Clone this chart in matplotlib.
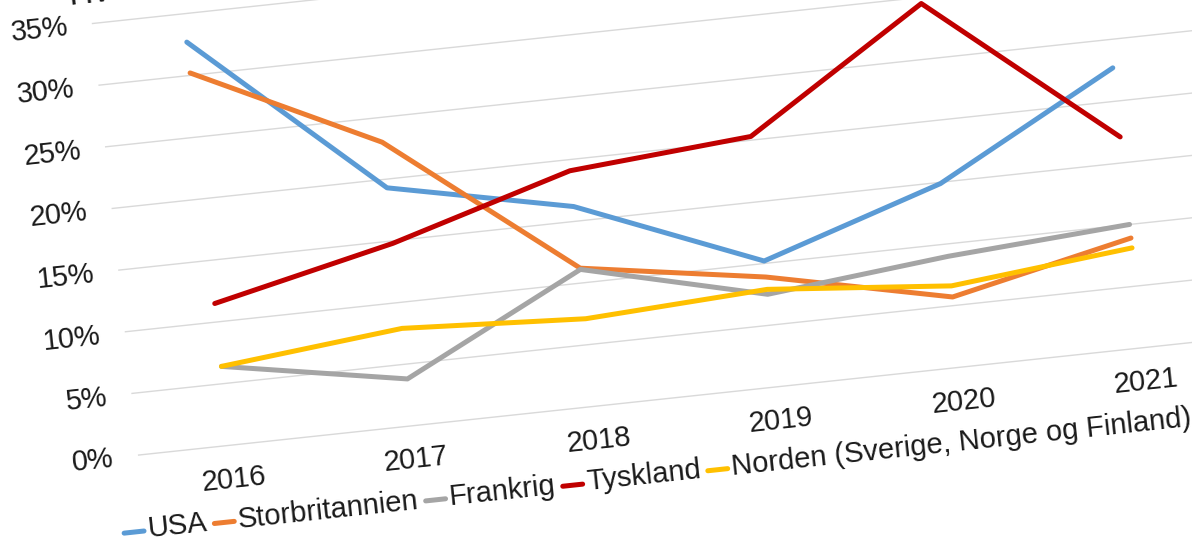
# -*- coding: utf-8 -*-
"""
Tilted line chart: share per market 2016-2021 (rotated slightly, like the scanned original)
"""

# %% Imports
import numpy as np
import matplotlib
matplotlib.use('Agg')
import matplotlib.pyplot as plt
from matplotlib.transforms import Affine2D
from matplotlib.font_manager import FontProperties

plt.rcParams['font.family'] = ['Liberation Sans', 'DejaVu Sans']

# %% Data
years = ['2016', '2017', '2018', '2019', '2020', '2021']
usa = [32.7, 19.3, 16.2, 10.2, 14.9, 22.7]
storbritannien = [30.2, 23.0, 11.2, 8.9, 5.7, 8.9]
frankrig = [6.4, 3.8, 11.1, 7.5, 9.0, 10.0]
tyskland = [11.5, 14.8, 19.1, 20.3, 29.5, 17.1]
norden = [6.4, 7.9, 7.1, 7.9, 6.6, 8.1]

names = ['USA', 'Storbritannien', 'Frankrig', 'Tyskland',
         'Norden (Sverige, Norge og Finland)']
colors = ['#5B9BD5', '#ED7D31', '#A5A5A5', '#C00000', '#FFC000']
series = [usa, storbritannien, frankrig, tyskland, norden]

yticks = [0, 5, 10, 15, 20, 25, 30, 35]
ytick_labels = [f'{t}%' for t in yticks]
title = 'Hvor stor en andel'

# %% Layout
W, H = 1192, 540
x0, y0 = 229.9, 94.7    # pixel spot of (2016, 0%) before the tilt
dx, dy = 183.6, 12.40   # pixels per category / per percent
tilt = 6.1
txt = '#1a1a1a'

fig = plt.figure(figsize=(W / 100, H / 100), dpi=100)
ax = fig.add_axes([0, 0, 1, 1])
ax.set_xlim(-x0 / dx, (W - x0) / dx)
ax.set_ylim(-y0 / dy, (H - y0) / dy)
ax.axis('off')
rot = ax.transData + Affine2D().rotate_deg_around(x0, y0, tilt)


def cat(px):
    # pixel offset along the tilted x axis -> category units
    return (px - 181.2) / dx


def val(px):
    # pixel offset along the tilted y axis -> percent units
    return (px + 467.2) / dy


# gridlines
for t in yticks:
    ax.plot([-0.5, 5.5], [t, t], color='#d9d9d9', lw=1.0, transform=rot, zorder=1)

# series
xs = np.arange(len(years))
for vals, c in zip(series, colors):
    ax.plot(xs, vals, color=c, lw=3.6, transform=rot, zorder=3,
            solid_capstyle='round', solid_joinstyle='round')

# tick labels
for t, lab in zip(yticks, ytick_labels):
    ax.text(cat(64.5), t - 0.1, lab, ha='right', va='center', fontsize=20.8,
            color=txt, rotation=tilt, rotation_mode='anchor', transform=rot)
for i, y in enumerate(years):
    ax.text(i, val(-501.4), y, ha='center', va='center', fontsize=21,
            color=txt, rotation=tilt, rotation_mode='anchor', transform=rot)

# title (mostly cut off at the top)
ax.text(cat(69), val(-12.4), title, ha='left', va='baseline', fontsize=24,
        color=txt, rotation=tilt, rotation_mode='anchor', transform=rot)

# legend, laid out by hand along the tilted axis
fp = FontProperties(family=['Liberation Sans', 'DejaVu Sans'], size=21)
renderer = fig.canvas.get_renderer()
s = 64.7
for name, c in zip(names, colors):
    ax.plot([cat(s + 2), cat(s + 22)], [val(-543.3)] * 2, color=c, lw=3.6,
            transform=rot, solid_capstyle='round')
    s += 26
    ax.text(cat(s), val(-550.0), name, ha='left', va='baseline',
            fontproperties=fp, color=txt, rotation=tilt,
            rotation_mode='anchor', transform=rot)
    w, h, d = renderer.get_text_width_height_descent(name, fp, ismath=False)
    s += w + 5

fig.savefig('out.png', dpi=100, facecolor='white')
